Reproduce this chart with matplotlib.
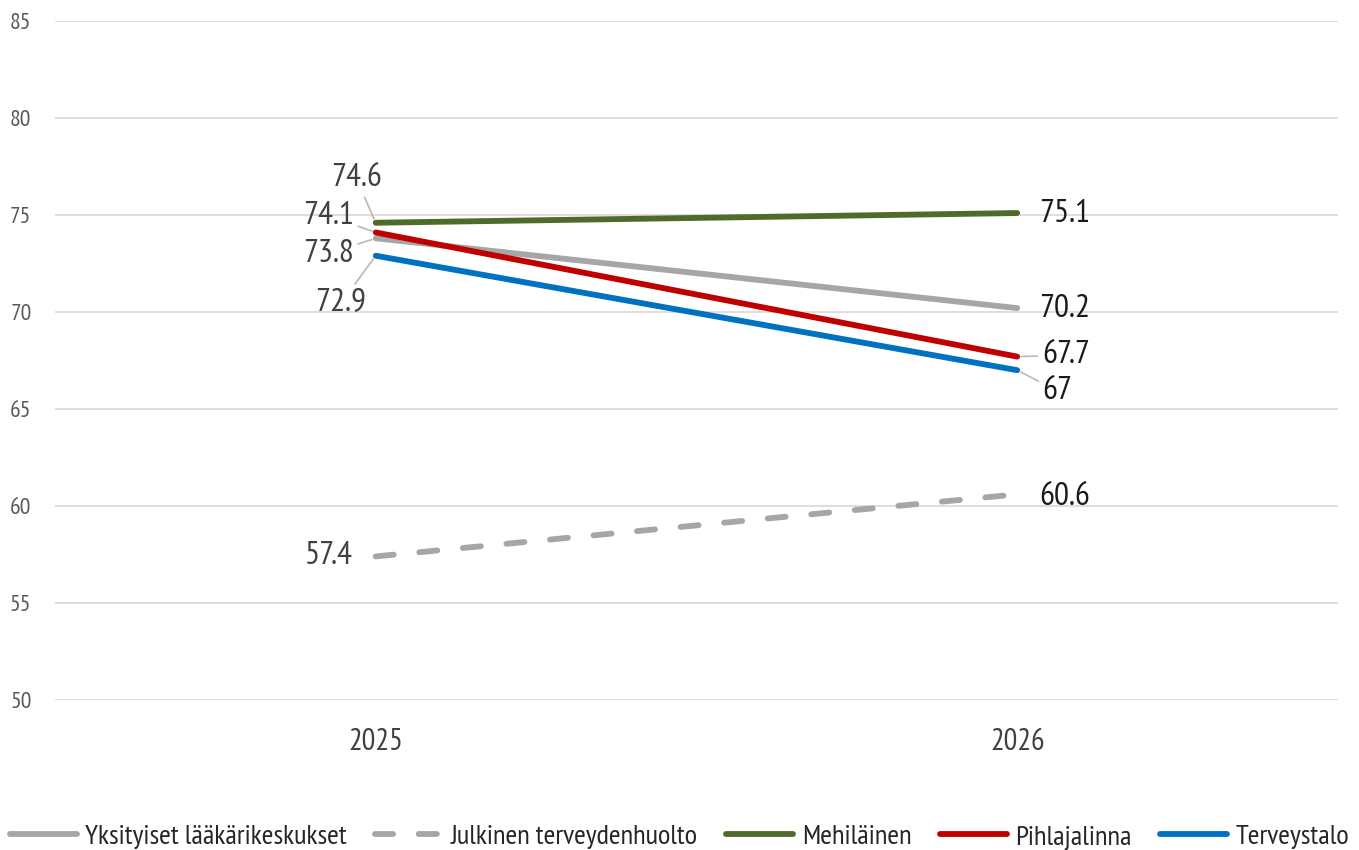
import matplotlib
matplotlib.use("Agg")
import matplotlib.pyplot as plt

years = ["2025", "2026"]
series_names = ["Yksityiset lääkärikeskukset", "Julkinen terveydenhuolto",
                "Mehiläinen", "Pihlajalinna", "Terveystalo"]
yksityiset = [73.8, 70.2]
julkinen = [57.4, 60.6]
mehilainen = [74.6, 75.1]
pihlajalinna = [74.1, 67.7]
terveystalo = [72.9, 67.0]
left_labels = ["73.8", "57.4", "74.6", "74.1", "72.9"]
right_labels = ["70.2", "60.6", "75.1", "67.7", "67"]

colors = ["#a6a6a6", "#a6a6a6", "#4e6b2a", "#c00000", "#0070c0"]
styles = ["-", (0, (3.1, 4.4)), "-", "-", "-"]

# label offsets in points from the data point, and whether a leader line is drawn
left_off = [(-34, -11, True), (-34, 0, False), (-14, 32, True), (-34, 12, True), (-25, -34, True)]
right_off = [(34, -1, False), (34, -2, False), (34, -1, False), (35, 1, True), (29, -15, True)]

plt.rcParams["font.family"] = ["PT Sans Narrow", "DejaVu Sans"]

fig = plt.figure(figsize=(13.59, 8.5), dpi=100)
ax = fig.add_axes([0.0405, 0.1765, 0.944, 0.7988])

data = [yksityiset, julkinen, mehilainen, pihlajalinna, terveystalo]
x = [0, 1]
lead = "#c4b5ae"
for i, (name, vals) in enumerate(zip(series_names, data)):
    ax.plot(x, vals, color=colors[i], linestyle=styles[i], lw=4.2,
            solid_capstyle="round", dash_capstyle="round", label=name, zorder=3)
    dx, dy, ld = left_off[i]
    ax.annotate(left_labels[i], (0, vals[0]), xytext=(dx, dy), textcoords="offset points",
                ha="center", va="center", fontsize=24, color="#404040",
                arrowprops=dict(arrowstyle="-", color=lead, lw=1.2, shrinkA=1, shrinkB=3) if ld else None)
    dx, dy, ld = right_off[i]
    ax.annotate(right_labels[i], (1, vals[1]), xytext=(dx, dy), textcoords="offset points",
                ha="center", va="center", fontsize=24, color="#1a1a1a",
                arrowprops=dict(arrowstyle="-", color=lead, lw=1.2, shrinkA=1, shrinkB=3) if ld else None)

ax.set_xlim(-0.5, 1.5)
ax.set_ylim(50, 85)
ax.set_yticks(range(50, 86, 5))
ax.set_xticks(x, years)
ax.grid(axis="y", color="#e2d8dc", lw=1.3)
ax.set_axisbelow(True)
for s in ax.spines.values():
    s.set_visible(False)
ax.tick_params(axis="y", length=0, labelsize=17, labelcolor="#595959", pad=17)
ax.tick_params(axis="x", length=0, labelsize=22, labelcolor="#404040", pad=20)

fig.legend(loc="lower center", bbox_to_anchor=(0.5, -0.03), ncol=5, frameon=False,
           fontsize=20.5, handlelength=2.35, columnspacing=1.0, handletextpad=0.3,
           labelcolor="#262626")

fig.savefig("out.png", dpi=100)
